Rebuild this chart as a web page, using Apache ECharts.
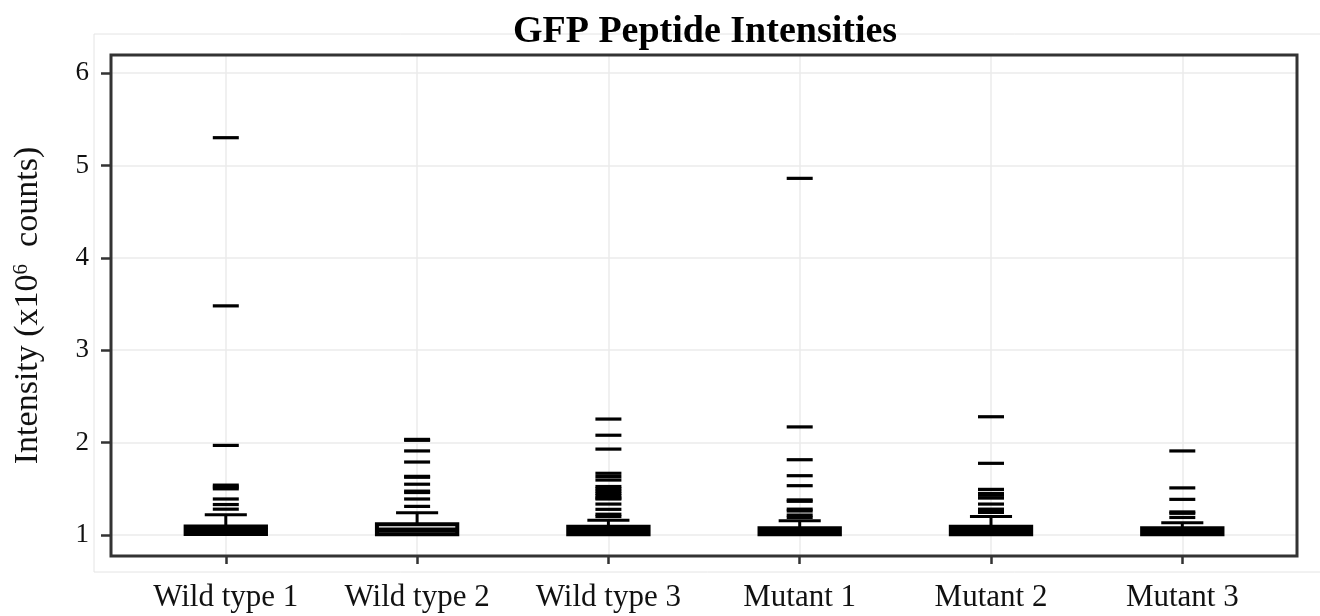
<!DOCTYPE html>
<html>
<head>
<meta charset="utf-8">
<script src="https://cdn.jsdelivr.net/npm/echarts@6/dist/echarts.min.js"></script>
<style>
html,body{margin:0;padding:0;background:#fff;}
#chart{width:1320px;height:616px;}
</style>
</head>
<body>
<div id="chart"></div>
<script>
// ---- data ----
const categories = ['Wild type 1', 'Wild type 2', 'Wild type 3', 'Mutant 1', 'Mutant 2', 'Mutant 3'];
const whiskerLow  = [1.011, 1.009, 1.008, 1.009, 1.008, 1.009];
const q1          = [1.011, 1.009, 1.008, 1.009, 1.008, 1.009];
const median      = [1.050, 1.054, 1.050, 1.043, 1.050, 1.043];
const q3          = [1.092, 1.116, 1.090, 1.074, 1.090, 1.074];
const whiskerHigh = [1.220, 1.240, 1.160, 1.155, 1.200, 1.133];
const outliersWT1 = [5.30, 3.48, 1.97, 1.54, 1.52, 1.50, 1.39, 1.33, 1.28];
const outliersWT2 = [2.035, 2.025, 1.91, 1.79, 1.635, 1.625, 1.55, 1.475, 1.46, 1.39, 1.31];
const outliersWT3 = [2.255, 2.08, 1.93, 1.668, 1.632, 1.595, 1.525, 1.50, 1.475, 1.45, 1.425, 1.40, 1.39, 1.335, 1.278, 1.225, 1.20];
const outliersM1  = [4.86, 2.17, 1.815, 1.642, 1.534, 1.38, 1.365, 1.28, 1.26, 1.216, 1.19];
const outliersM2  = [2.28, 1.776, 1.494, 1.45, 1.43, 1.40, 1.335, 1.28, 1.26, 1.245];
const outliersM3  = [1.91, 1.51, 1.386, 1.25, 1.235, 1.19];
const yTicks = [1, 2, 3, 4, 5, 6];
const yMin = 0.773;
const yMax = 6.195;

// ---- build series data ----
const outlierGroups = [outliersWT1, outliersWT2, outliersWT3, outliersM1, outliersM2, outliersM3];
const boxData = categories.map((c, i) => [i, whiskerLow[i], q1[i], median[i], q3[i], whiskerHigh[i]]);
const outlierData = [];
outlierGroups.forEach((arr, i) => arr.forEach(v => outlierData.push([i, v])));

const serif = 'Liberation Serif, Times New Roman, serif';
const chart = echarts.init(document.getElementById('chart'), null, {renderer: 'canvas'});

function renderBox(params, api) {
  const x = api.value(0);
  const band = api.size([1, 0])[0];
  const boxW = band * 0.42;
  const capW = band * 0.22;
  const pLo = api.coord([x, api.value(1)]);
  const pQ1 = api.coord([x, api.value(2)]);
  const pMed = api.coord([x, api.value(3)]);
  const pQ3 = api.coord([x, api.value(4)]);
  const pHi = api.coord([x, api.value(5)]);
  const cx = pMed[0];
  const stroke = {stroke: '#000', lineWidth: 3};
  return {
    type: 'group',
    children: [
      {type: 'line', shape: {x1: cx, y1: pQ3[1], x2: cx, y2: pHi[1]}, style: stroke},
      {type: 'line', shape: {x1: cx - capW / 2, y1: pHi[1], x2: cx + capW / 2, y2: pHi[1]}, style: stroke},
      {type: 'line', shape: {x1: cx, y1: pQ1[1], x2: cx, y2: pLo[1]}, style: stroke},
      {type: 'line', shape: {x1: cx - capW / 2, y1: pLo[1], x2: cx + capW / 2, y2: pLo[1]}, style: stroke},
      {type: 'rect', shape: {x: cx - boxW / 2, y: pQ3[1], width: boxW, height: pQ1[1] - pQ3[1]},
        style: {fill: '#fff', stroke: '#000', lineWidth: 4}},
      {type: 'line', shape: {x1: cx - boxW / 2, y1: pMed[1], x2: cx + boxW / 2, y2: pMed[1]},
        style: {stroke: '#000', lineWidth: 5}}
    ]
  };
}

const option = {
  animation: false,
  backgroundColor: '#fff',
  title: {
    text: 'GFP Peptide Intensities',
    left: 700,
    textAlign: 'center',
    top: 8,
    textStyle: {fontFamily: serif, fontSize: 38, fontWeight: 'bold', color: '#000'}
  },
  grid: [
    {left: 94, top: 34, right: -20, bottom: 44, show: true, borderColor: '#e4e4e4', borderWidth: 1,
      backgroundColor: 'transparent', containLabel: false, outerBoundsMode: 'none'},
    {left: 111, top: 55, right: 23, bottom: 60, show: true, borderColor: '#333', borderWidth: 3,
      backgroundColor: 'transparent', z: 10, containLabel: false, outerBoundsMode: 'none'},
    {left: 225.8, top: 55, right: 137.7, bottom: 60, containLabel: false, outerBoundsMode: 'none'}
  ],
  xAxis: [
    {gridIndex: 0, type: 'value', show: false},
    {gridIndex: 1, type: 'value', show: false},
    {
      gridIndex: 2, type: 'category', data: categories, boundaryGap: false,
      axisLine: {show: false},
      axisTick: {show: true, length: 8, lineStyle: {color: '#333', width: 2.5}},
      axisLabel: {interval: 0, fontFamily: serif, fontSize: 31, color: '#111', margin: 26},
      splitLine: {show: true, lineStyle: {color: '#ebebeb', width: 1.5}}
    }
  ],
  yAxis: [
    {gridIndex: 0, type: 'value', show: false},
    {
      gridIndex: 1, type: 'value', min: yMin, max: yMax,
      axisLine: {show: false},
      axisTick: {show: true, length: 10, lineStyle: {color: '#333', width: 2.5}, customValues: yTicks},
      axisLabel: {fontFamily: serif, fontSize: 27, color: '#111', margin: 22, customValues: yTicks},
      splitLine: {show: true, lineStyle: {color: '#ebebeb', width: 1.5}},
      name: '{a|Intensity (x10}{b|6}{a|  counts)}',
      nameLocation: 'middle',
      nameGap: 66,
      nameTextStyle: {
        fontFamily: serif, fontSize: 34, color: '#111',
        rich: {
          a: {fontFamily: serif, fontSize: 34, color: '#111'},
          b: {fontFamily: serif, fontSize: 21, color: '#111', verticalAlign: 'top'}
        }
      }
    },
    {gridIndex: 2, type: 'value', min: yMin, max: yMax, show: false}
  ],
  series: [
    {
      type: 'custom', xAxisIndex: 2, yAxisIndex: 2,
      renderItem: renderBox,
      data: boxData,
      encode: {x: 0, y: [1, 2, 3, 4, 5]},
      z: 3
    },
    {
      type: 'scatter', xAxisIndex: 2, yAxisIndex: 2,
      symbol: 'rect', symbolSize: [26, 3.2],
      itemStyle: {color: '#000', opacity: 1},
      data: outlierData,
      z: 4
    }
  ]
};
chart.setOption(option);
</script>
</body>
</html>
